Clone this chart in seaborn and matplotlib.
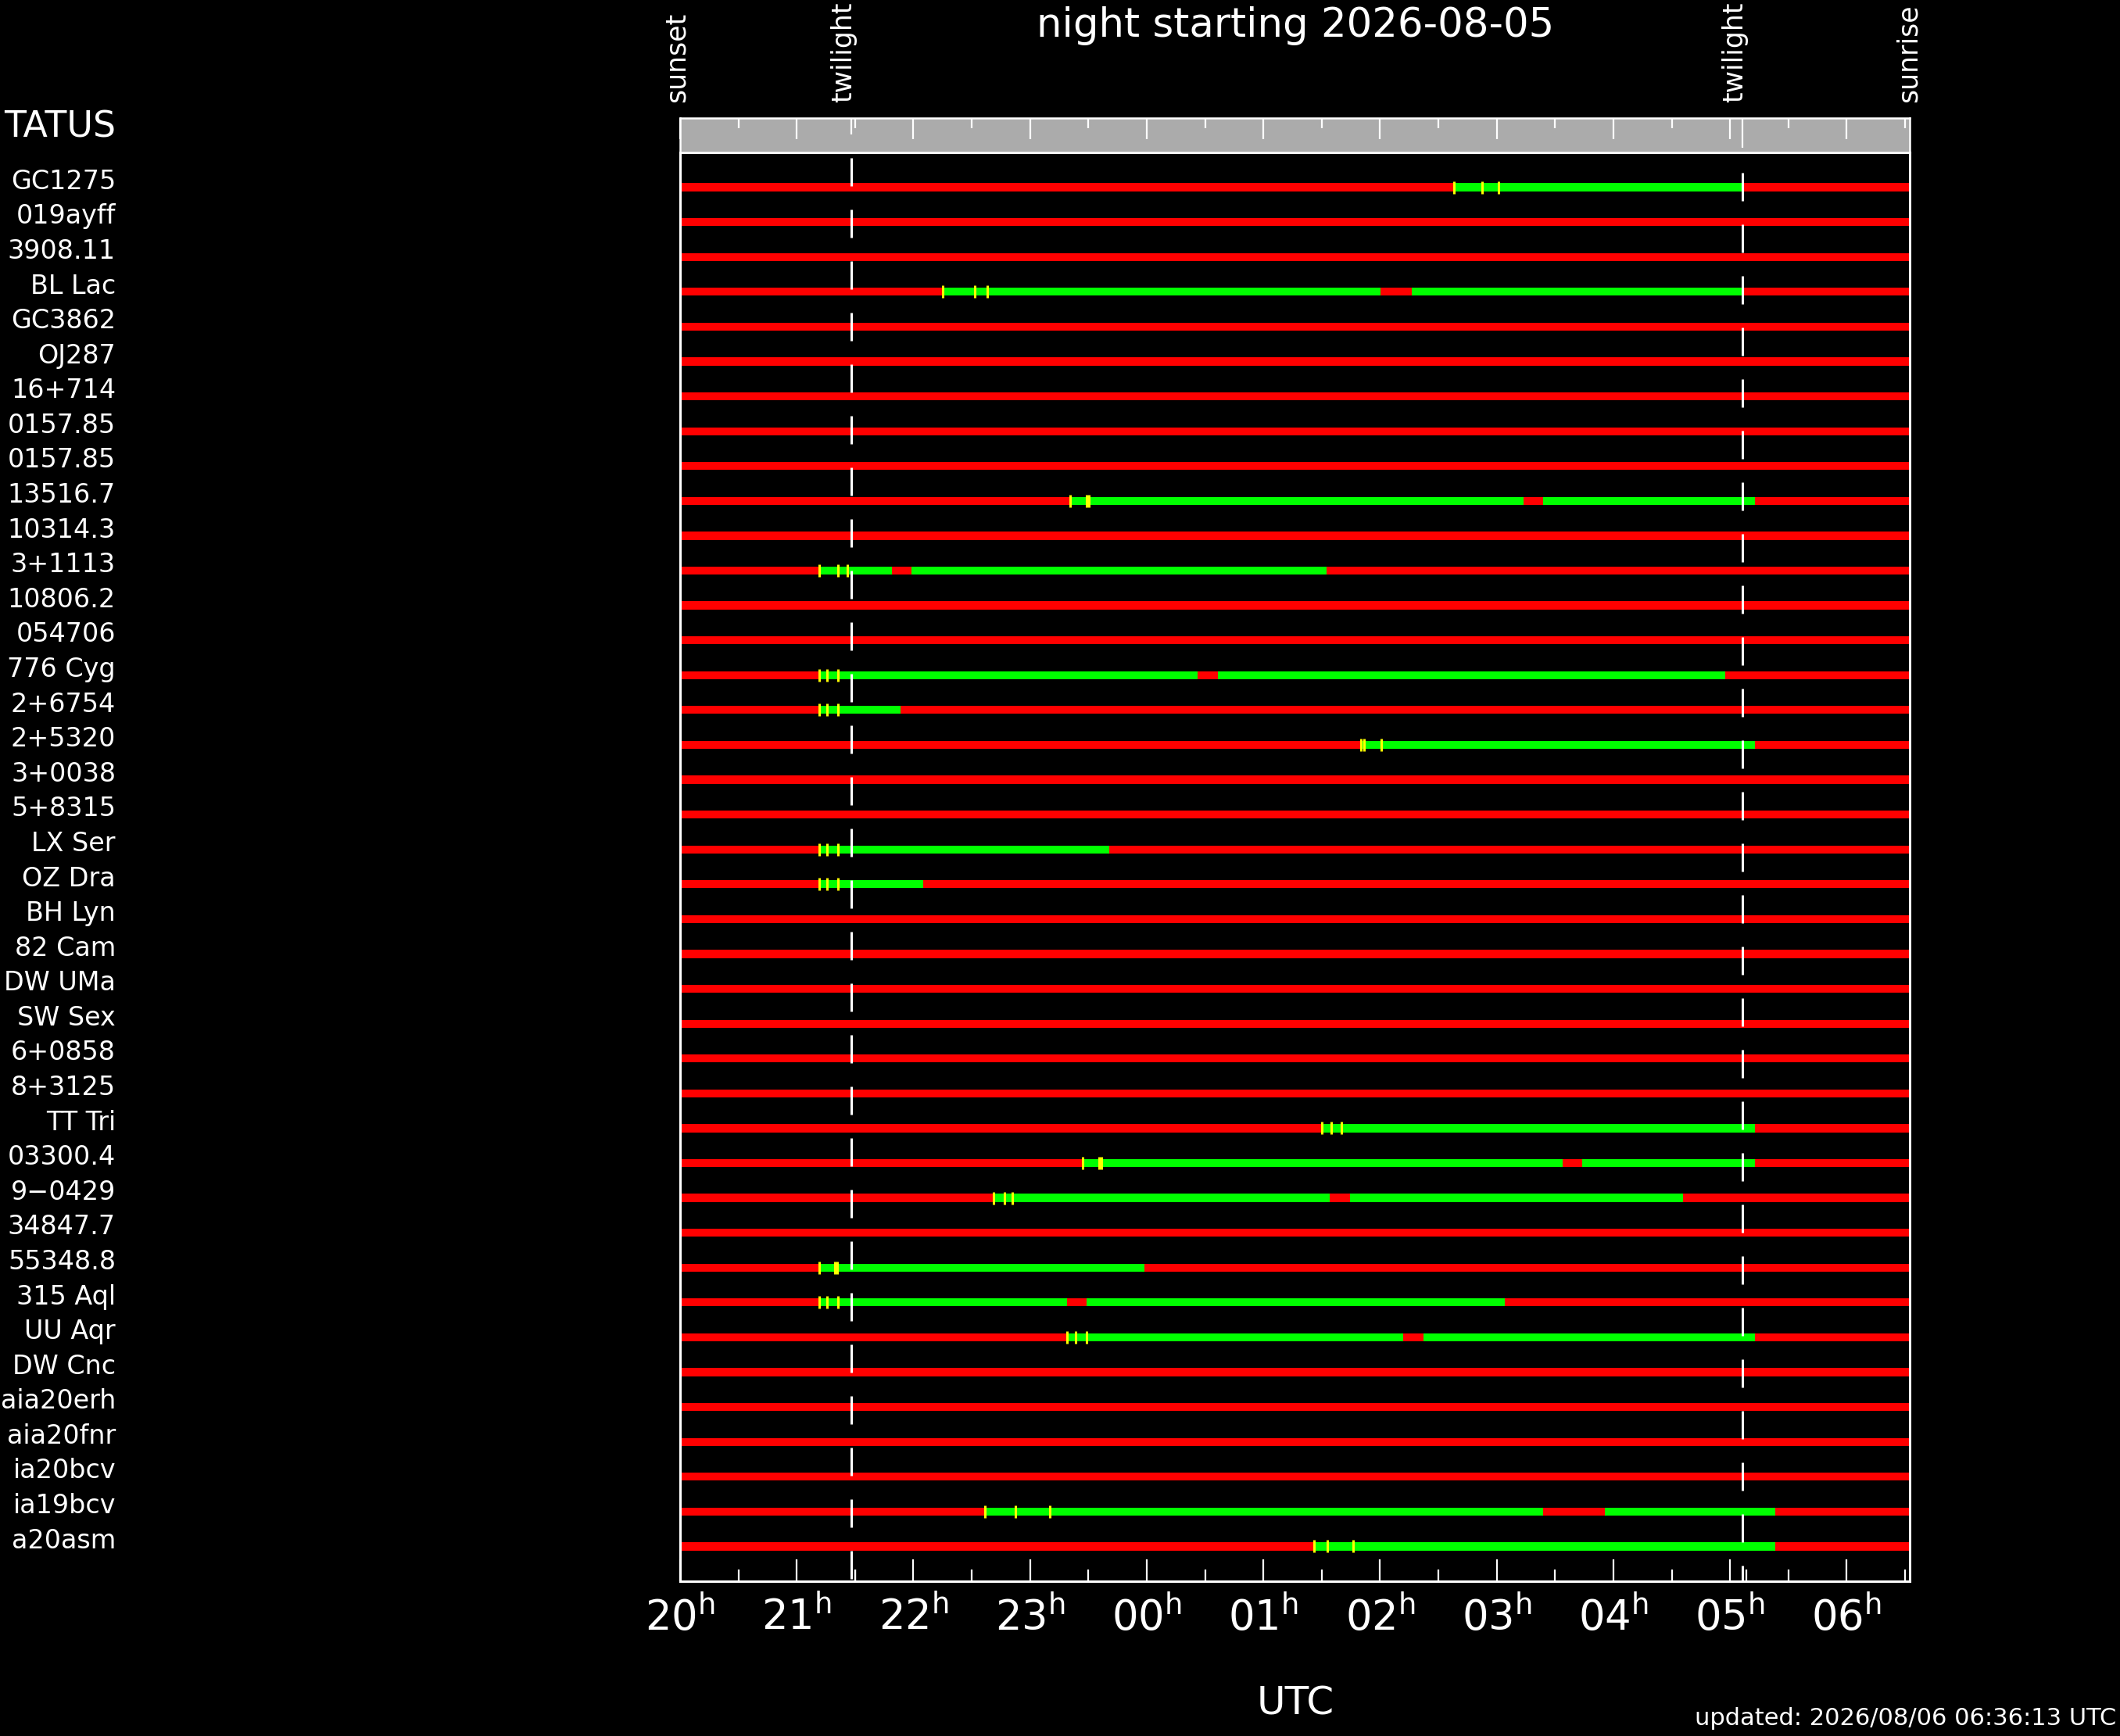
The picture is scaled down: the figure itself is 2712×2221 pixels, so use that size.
import numpy as np
import matplotlib
matplotlib.use('Agg')
import matplotlib.pyplot as plt
from matplotlib import transforms
import seaborn as sns

nan = np.nan

# object names as far as they show at the left edge, top to bottom
names = ['GC1275', '019ayff', '3908.11', 'BL Lac', 'GC3862', 'OJ287', '16+714',
         '0157.85', '0157.85', '13516.7', '10314.3', '3+1113', '10806.2', '054706',
         '776 Cyg', '2+6754', '2+5320', '3+0038', '5+8315', 'LX Ser', 'OZ Dra',
         'BH Lyn', '82 Cam', 'DW UMa', 'SW Sex', '6+0858', '8+3125', 'TT Tri',
         '03300.4', '9\u22120429', '34847.7', '55348.8', '315 Aql', 'UU Aqr', 'DW Cnc',
         'aia20erh', 'aia20fnr', 'ia20bcv', 'ia19bcv', 'a20asm']
header = 'TATUS'

# observable window (UTC hours, >24 = next morning); nan = not observable
obs_start = [26.632, nan, nan, 22.251, nan, nan, nan, nan, nan, 23.344, nan,
             21.191, nan, nan, 21.191, 21.191, 25.833, nan, nan, 21.191, 21.191,
             nan, nan, nan, nan, nan, nan, 25.498, 23.454, 22.688, nan, 21.191,
             21.191, 23.317, nan, nan, nan, nan, 22.613, 25.436]
obs_end = [29.107, nan, nan, 29.107, nan, nan, nan, nan, nan, 29.216, nan,
           25.539, nan, nan, 28.956, 21.889, 29.216, nan, nan, 23.679, 22.087,
           nan, nan, nan, nan, nan, nan, 29.216, 29.216, 28.594, nan, 23.980,
           27.070, 29.216, nan, nan, nan, nan, 29.387, 29.387]
# interruption inside the window
gap_start = [nan, nan, nan, 26.003, nan, nan, nan, nan, nan, 27.227, nan,
             21.813, nan, nan, 24.438, nan, nan, nan, nan, nan, nan,
             nan, nan, nan, nan, nan, nan, nan, 27.562, 25.566, nan, nan,
             23.317, 26.195, nan, nan, nan, nan, 27.398, nan]
gap_end = [nan, nan, nan, 26.270, nan, nan, nan, nan, nan, 27.398, nan,
           21.984, nan, nan, 24.609, nan, nan, nan, nan, nan, nan,
           nan, nan, nan, nan, nan, nan, nan, 27.733, 25.744, nan, nan,
           23.481, 26.373, nan, nan, nan, nan, 27.924, nan]
# yellow markers
mark_a = [26.632, nan, nan, 22.251, nan, nan, nan, nan, nan, 23.344, nan,
          21.191, nan, nan, 21.191, 21.191, 25.833, nan, nan, 21.191, 21.191,
          nan, nan, nan, nan, nan, nan, 25.498, 23.454, 22.688, nan, 21.191,
          21.191, 23.317, nan, nan, nan, nan, 22.613, 25.436]
mark_b = [26.878, nan, nan, 22.524, nan, nan, nan, nan, nan, 23.481, nan,
          21.355, nan, nan, 21.260, 21.260, 25.860, nan, nan, 21.260, 21.260,
          nan, nan, nan, nan, nan, nan, 25.580, 23.591, 22.784, nan, 21.328,
          21.260, 23.392, nan, nan, nan, nan, 22.873, 25.545]
mark_c = [27.015, nan, nan, 22.634, nan, nan, nan, nan, nan, 23.502, nan,
          21.431, nan, nan, 21.355, 21.355, 26.010, nan, nan, 21.355, 21.355,
          nan, nan, nan, nan, nan, nan, 25.669, 23.611, 22.846, nan, 21.349,
          21.355, 23.481, nan, nan, nan, nan, 23.167, 25.771]

event_names = ['sunset', 'twilight', 'twilight', 'sunrise']
event_times = [20.04, 21.47, 29.107, 30.60]
night_start, night_end = 20.0, 30.54
hours = list(range(20, 31))
hour_labels = ['$%02d^{\\mathrm{h}}$' % (h % 24) for h in hours]

W, H, DPI = 2712, 2221, 200
sns.set_theme(style='dark')
plt.rcParams.update({'figure.facecolor': 'black', 'axes.facecolor': 'black',
                     'savefig.facecolor': 'black', 'text.color': 'white',
                     'lines.scale_dashes': False, 'mathtext.fontset': 'dejavusans',
                     'patch.edgecolor': 'none', 'patch.linewidth': 0})
plt.rcParams['font.family'] = ['DejaVu Sans']

fig = plt.figure(figsize=(W / DPI, H / DPI), dpi=DPI)


def box(l, t, r, b):
    return [l / W, 1 - b / H, (r - l) / W, (b - t) / H]


ax = fig.add_axes(box(870, 195, 2443, 2023))
strip = fig.add_axes(box(870, 151, 2443, 195))

rows = np.arange(len(names))
bh = 0.23
ax.barh(rows, night_end - night_start, left=night_start, height=bh,
        color='#ff0000', edgecolor='none', linewidth=0, zorder=2)
for i in rows:
    if not np.isnan(obs_start[i]):
        ax.barh(i, obs_end[i] - obs_start[i], left=obs_start[i], height=bh,
                color='#00ff00', edgecolor='none', linewidth=0, zorder=3)
    if not np.isnan(gap_start[i]):
        ax.barh(i, gap_end[i] - gap_start[i], left=gap_start[i], height=bh,
                color='#ff0000', edgecolor='none', linewidth=0, zorder=4)
    for m in (mark_a[i], mark_b[i], mark_c[i]):
        if not np.isnan(m):
            ax.vlines(m, i - 0.18, i + 0.18, color='#ffff00', lw=1.1, zorder=5)

# dashed twilight lines, drawn from the top
px = 72 / DPI
for t, gap in ((event_times[1], 7), (event_times[2], 26)):
    ax.plot([t, t], [-1, 40], color='white', lw=1.1, zorder=6,
            ls=((66 - gap) * px, (36 * px, 30 * px)))

ax.set_xlim(night_start, night_end)
ax.set_ylim(40, -1)
ax.set_yticks([])
ax.set_xticks(hours)
ax.set_xticklabels(hour_labels)
ax.set_xticks(np.arange(20.5, 30.6, 1.0), minor=True)
ax.tick_params(axis='x', which='major', direction='in', length=10, width=0.8,
               color='white', labelcolor='white', labelsize=19, pad=7,
               bottom=True, top=False)
ax.tick_params(axis='x', which='minor', direction='in', length=5.4, width=0.8,
               color='white', bottom=True, top=False)
ax.grid(False)
for s in ax.spines.values():
    s.set_visible(True)
    s.set_color('white')
    s.set_linewidth(1.1)
bt = transforms.blended_transform_factory(ax.transData, ax.transAxes)
for t in event_times[1:3]:
    ax.vlines(t + 0.03, 0, 15 / 1828, color='white', lw=0.8, transform=bt, zorder=6)

# grey time strip on top
strip.set_facecolor('#ababab')
strip.set_xlim(night_start, night_end)
strip.set_ylim(0, 1)
strip.set_yticks([])
strip.set_xticks(hours)
strip.set_xticks(np.arange(20.5, 30.6, 1.0), minor=True)
strip.tick_params(axis='x', which='major', direction='in', length=9.7, width=0.8,
                  color='white', top=True, bottom=False, labeltop=False, labelbottom=False)
strip.tick_params(axis='x', which='minor', direction='in', length=4.7, width=0.8,
                  color='white', top=True, bottom=False)
strip.grid(False)
for s in strip.spines.values():
    s.set_visible(True)
    s.set_color('white')
    s.set_linewidth(0.9)
strip.vlines(event_times[1], 1 - 21 / 44, 1, color='white', lw=0.8)
strip.vlines(event_times[2], 1 - 38 / 44, 1, color='white', lw=0.8)

# event labels above the strip
et = transforms.blended_transform_factory(strip.transData, fig.transFigure)
for name, t in zip(event_names, event_times):
    strip.text(t, 1 - 131 / H, name, rotation=90, rotation_mode='anchor',
               ha='left', va='baseline', fontsize=12.5, color='white',
               transform=et, clip_on=False)

# object names
lt = transforms.blended_transform_factory(fig.transFigure, ax.transData)
for i, n in enumerate(names):
    ax.text(148 / W, i + 0.05, n, transform=lt, ha='right', va='baseline',
            fontsize=12, color='white', clip_on=False)
fig.text(148 / W, 1 - 175 / H, header, ha='right', va='baseline', fontsize=16.5, color='white')

fig.text(1657 / W, 1 - 47 / H, 'night starting 2026-08-05', ha='center', va='baseline',
         fontsize=18.5, color='white')
fig.text(1657 / W, 1 - 2193 / H, 'UTC', ha='center', va='baseline', fontsize=18, color='white')
fig.text(2707 / W, 1 - 2207 / H, 'updated: 2026/08/06 06:36:13 UTC', ha='right',
         va='baseline', fontsize=11, color='white')

fig.savefig('out.png', dpi=DPI, facecolor='black')
